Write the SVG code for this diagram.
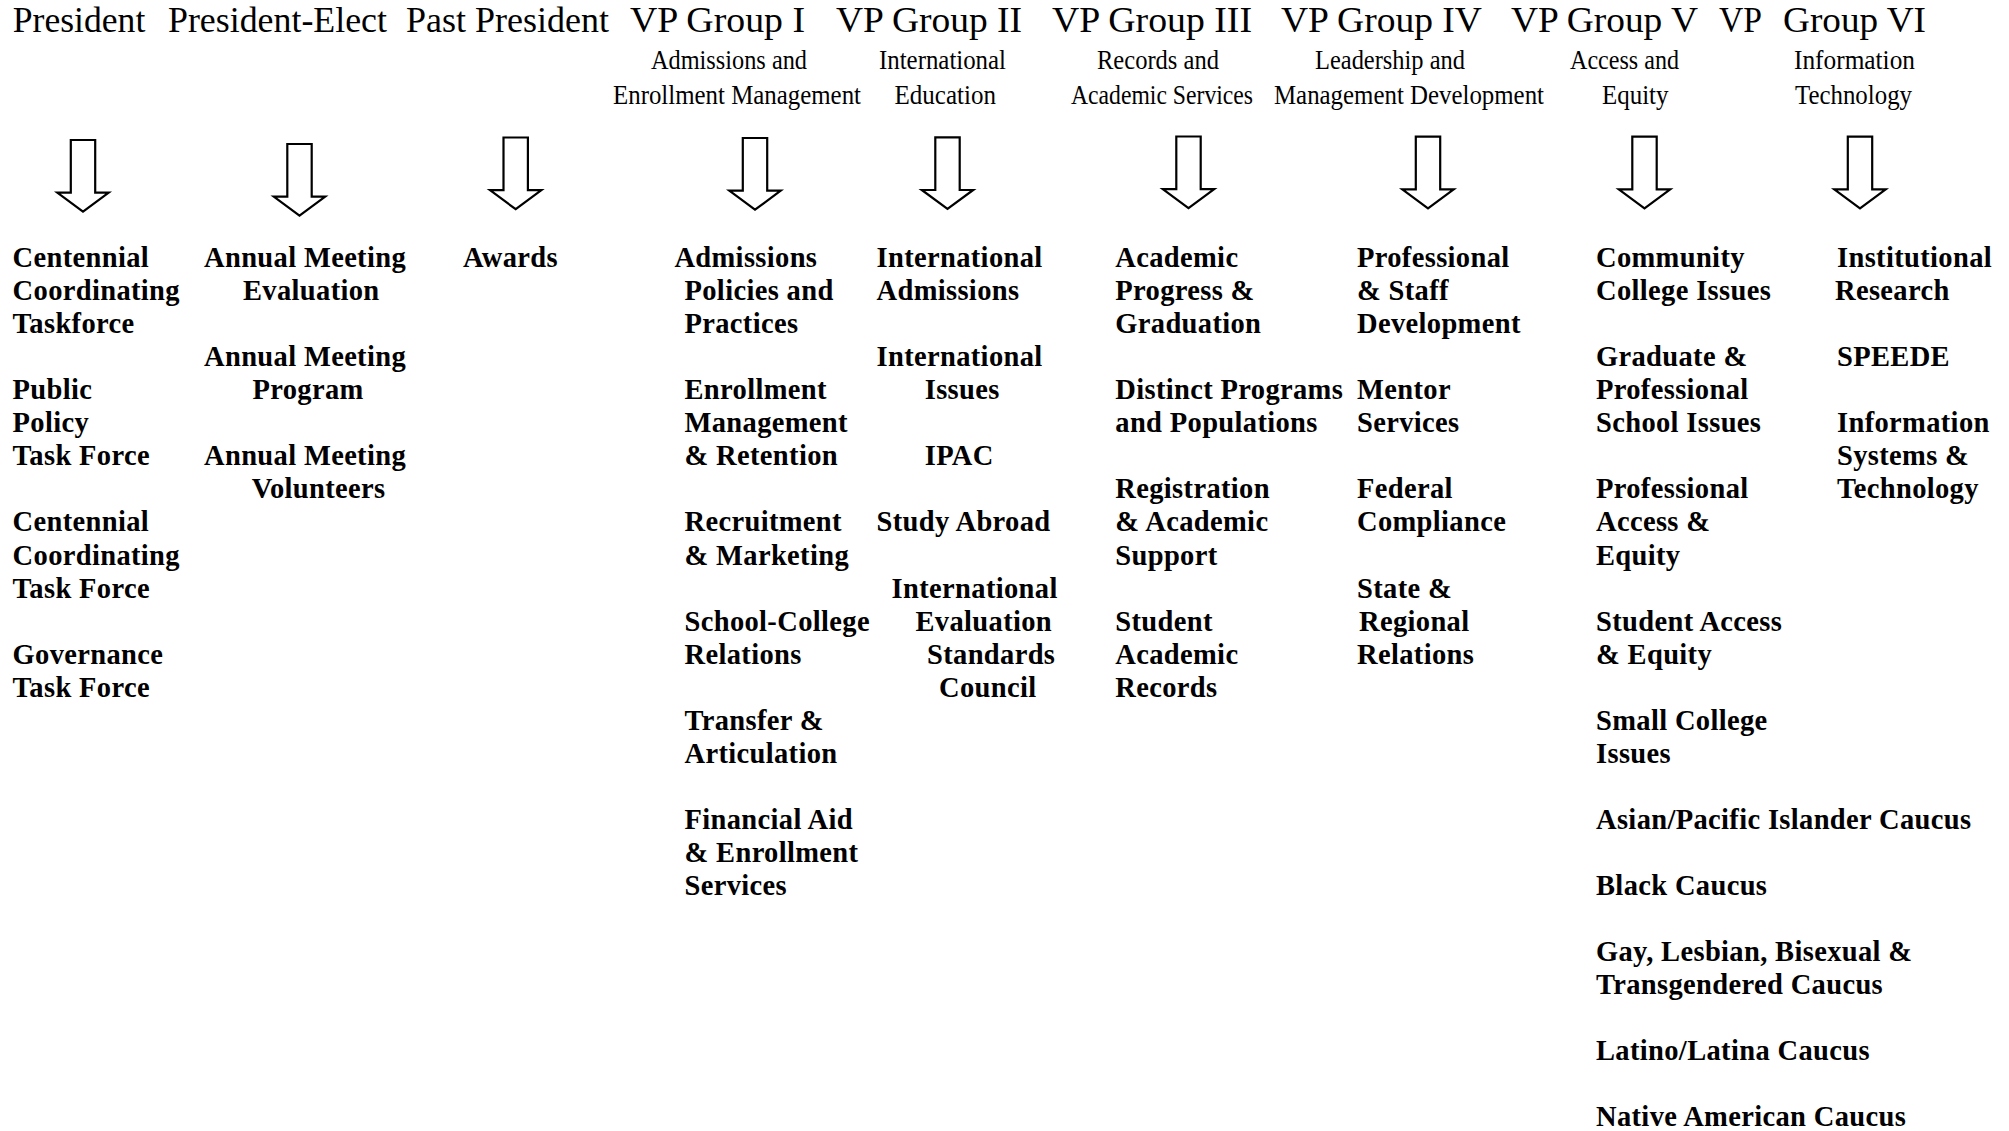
<svg xmlns="http://www.w3.org/2000/svg" width="2009" height="1131" viewBox="0 0 2009 1131">
<style>
.h{font-family:"Liberation Serif","Times New Roman",serif;font-size:35.5px;fill:#000}
.s{font-family:"Liberation Serif","Times New Roman",serif;font-size:27px;fill:#000}
.b{font-family:"Liberation Serif","Times New Roman",serif;font-size:28.5px;font-weight:bold;letter-spacing:0.35px;fill:#000}
.arr{fill:#fff;stroke:#000;stroke-width:2.2;stroke-linejoin:miter}
</style>
<defs>
<path id="arrow" class="arr" d="M-12.2,0 H12.2 V52.7 H25.7 L0,71.7 L-25.7,52.7 H-12.2 Z"/>
</defs>
<rect width="2009" height="1131" fill="#fff"/>

<g id="headers">
<g id="h-president"><text class="h" x="12.8" y="32" textLength="132.5" lengthAdjust="spacingAndGlyphs">President</text></g>
<g id="h-president-elect"><text class="h" x="168" y="32" textLength="219" lengthAdjust="spacingAndGlyphs">President-Elect</text></g>
<g id="h-past-president"><text class="h" x="406" y="32" textLength="203" lengthAdjust="spacingAndGlyphs">Past President</text></g>
<g id="h-vp1"><text class="h" x="630" y="32" textLength="175" lengthAdjust="spacingAndGlyphs">VP Group I</text>
<text class="s" x="651" y="69" textLength="156" lengthAdjust="spacingAndGlyphs">Admissions and</text>
<text class="s" x="613" y="104" textLength="248" lengthAdjust="spacingAndGlyphs">Enrollment Management</text></g>
<g id="h-vp2"><text class="h" x="836" y="32" textLength="186" lengthAdjust="spacingAndGlyphs">VP Group II</text>
<text class="s" x="879" y="69" textLength="127" lengthAdjust="spacingAndGlyphs">International</text>
<text class="s" x="894.5" y="104" textLength="101.5" lengthAdjust="spacingAndGlyphs">Education</text></g>
<g id="h-vp3"><text class="h" x="1052" y="32" textLength="200" lengthAdjust="spacingAndGlyphs">VP Group III</text>
<text class="s" x="1097" y="69" textLength="122" lengthAdjust="spacingAndGlyphs">Records and</text>
<text class="s" x="1071" y="104" textLength="182" lengthAdjust="spacingAndGlyphs">Academic Services</text></g>
<g id="h-vp4"><text class="h" x="1281" y="32" textLength="201" lengthAdjust="spacingAndGlyphs">VP Group IV</text>
<text class="s" x="1315" y="69" textLength="150" lengthAdjust="spacingAndGlyphs">Leadership and</text>
<text class="s" x="1274" y="104" textLength="270" lengthAdjust="spacingAndGlyphs">Management Development</text></g>
<g id="h-vp5"><text class="h" x="1511" y="32" textLength="187" lengthAdjust="spacingAndGlyphs">VP Group V</text>
<text class="s" x="1570" y="69" textLength="109" lengthAdjust="spacingAndGlyphs">Access and</text>
<text class="s" x="1602" y="104" textLength="66.5" lengthAdjust="spacingAndGlyphs">Equity</text></g>
<g id="h-vp6"><text class="h" x="1719" y="32" textLength="43" lengthAdjust="spacingAndGlyphs">VP</text>
<text class="h" x="1783" y="32" textLength="143" lengthAdjust="spacingAndGlyphs">Group VI</text>
<text class="s" x="1794" y="69" textLength="121" lengthAdjust="spacingAndGlyphs">Information</text>
<text class="s" x="1795" y="104" textLength="117" lengthAdjust="spacingAndGlyphs">Technology</text></g>
</g>

<g id="connectors">
<use href="#arrow" x="83" y="140"/>
<use href="#arrow" x="299.5" y="144"/>
<use href="#arrow" x="515.7" y="137.5"/>
<use href="#arrow" x="755" y="138"/>
<use href="#arrow" x="947.5" y="137.3"/>
<use href="#arrow" x="1188.5" y="136.5"/>
<use href="#arrow" x="1428" y="136.7"/>
<use href="#arrow" x="1644.5" y="136.7"/>
<use href="#arrow" x="1860" y="136.7"/>
</g>

<g id="col-president">
<g id="n-centennial-1"><text class="b"><tspan x="12.6" y="267">Centennial</tspan><tspan x="12.6" y="300.1">Coordinating</tspan><tspan x="12.6" y="333.1">Taskforce</tspan></text></g>
<g id="n-public-policy"><text class="b"><tspan x="12.6" y="399.2">Public</tspan><tspan x="12.6" y="432.3">Policy</tspan><tspan x="12.6" y="465.3">Task Force</tspan></text></g>
<g id="n-centennial-2"><text class="b"><tspan x="12.6" y="531.4">Centennial</tspan><tspan x="12.6" y="564.5">Coordinating</tspan><tspan x="12.6" y="597.5">Task Force</tspan></text></g>
<g id="n-governance"><text class="b"><tspan x="12.6" y="663.6">Governance</tspan><tspan x="12.6" y="696.7">Task Force</tspan></text></g>
</g>

<g id="col-president-elect">
<g id="n-am-eval"><text class="b"><tspan x="204" y="267">Annual Meeting</tspan><tspan x="243" y="300.1">Evaluation</tspan></text></g>
<g id="n-am-program"><text class="b"><tspan x="204" y="366.2">Annual Meeting</tspan><tspan x="252.5" y="399.2">Program</tspan></text></g>
<g id="n-am-volunteers"><text class="b"><tspan x="204" y="465.3">Annual Meeting</tspan><tspan x="251.7" y="498.4">Volunteers</tspan></text></g>
</g>

<g id="col-past-president">
<g id="n-awards"><text class="b" x="463" y="267">Awards</text></g>
</g>

<g id="col-vp1">
<g id="n-admissions-policies"><text class="b"><tspan x="674.4" y="267">Admissions</tspan><tspan x="684.5" y="300.1">Policies and</tspan><tspan x="684.5" y="333.1">Practices</tspan></text></g>
<g id="n-enrollment-mgmt"><text class="b"><tspan x="684.5" y="399.2">Enrollment</tspan><tspan x="684.5" y="432.3">Management</tspan><tspan x="684.5" y="465.3">&amp; Retention</tspan></text></g>
<g id="n-recruitment"><text class="b"><tspan x="684.5" y="531.4">Recruitment</tspan><tspan x="684.5" y="564.5">&amp; Marketing</tspan></text></g>
<g id="n-school-college"><text class="b"><tspan x="684.5" y="630.6">School-College</tspan><tspan x="684.5" y="663.6">Relations</tspan></text></g>
<g id="n-transfer"><text class="b"><tspan x="684.5" y="729.7">Transfer &amp;</tspan><tspan x="684.5" y="762.8">Articulation</tspan></text></g>
<g id="n-financial-aid"><text class="b"><tspan x="684.5" y="828.9">Financial Aid</tspan><tspan x="684.5" y="861.9">&amp; Enrollment</tspan><tspan x="684.5" y="895">Services</tspan></text></g>
</g>

<g id="col-vp2">
<g id="n-intl-admissions"><text class="b"><tspan x="876.5" y="267">International</tspan><tspan x="876.5" y="300.1">Admissions</tspan></text></g>
<g id="n-intl-issues"><text class="b"><tspan x="876.5" y="366.2">International</tspan><tspan x="924.7" y="399.2">Issues</tspan></text></g>
<g id="n-ipac"><text class="b" x="924.7" y="465.3">IPAC</text></g>
<g id="n-study-abroad"><text class="b" x="876.5" y="531.4">Study Abroad</text></g>
<g id="n-iesc"><text class="b"><tspan x="891.6" y="597.5">International</tspan><tspan x="915.5" y="630.6">Evaluation</tspan><tspan x="927" y="663.6">Standards</tspan><tspan x="939" y="696.7">Council</tspan></text></g>
</g>

<g id="col-vp3">
<g id="n-academic-progress"><text class="b"><tspan x="1115.3" y="267">Academic</tspan><tspan x="1115.3" y="300.1">Progress &amp;</tspan><tspan x="1115.3" y="333.1">Graduation</tspan></text></g>
<g id="n-distinct-programs"><text class="b"><tspan x="1115.3" y="399.2">Distinct Programs</tspan><tspan x="1115.3" y="432.3">and Populations</tspan></text></g>
<g id="n-registration"><text class="b"><tspan x="1115.3" y="498.4">Registration</tspan><tspan x="1115.3" y="531.4">&amp; Academic</tspan><tspan x="1115.3" y="564.5">Support</tspan></text></g>
<g id="n-student-records"><text class="b"><tspan x="1115.3" y="630.6">Student</tspan><tspan x="1115.3" y="663.6">Academic</tspan><tspan x="1115.3" y="696.7">Records</tspan></text></g>
</g>

<g id="col-vp4">
<g id="n-prof-staff"><text class="b"><tspan x="1357" y="267">Professional</tspan><tspan x="1357" y="300.1">&amp; Staff</tspan><tspan x="1357" y="333.1">Development</tspan></text></g>
<g id="n-mentor"><text class="b"><tspan x="1357" y="399.2">Mentor</tspan><tspan x="1357" y="432.3">Services</tspan></text></g>
<g id="n-federal"><text class="b"><tspan x="1357" y="498.4">Federal</tspan><tspan x="1357" y="531.4">Compliance</tspan></text></g>
<g id="n-state-regional"><text class="b"><tspan x="1357" y="597.5">State &amp;</tspan><tspan x="1359" y="630.6">Regional</tspan><tspan x="1357" y="663.6">Relations</tspan></text></g>
</g>

<g id="col-vp5">
<g id="n-community-college"><text class="b"><tspan x="1596" y="267">Community</tspan><tspan x="1596" y="300.1">College Issues</tspan></text></g>
<g id="n-graduate"><text class="b"><tspan x="1596" y="366.2">Graduate &amp;</tspan><tspan x="1596" y="399.2">Professional</tspan><tspan x="1596" y="432.3">School Issues</tspan></text></g>
<g id="n-prof-access"><text class="b"><tspan x="1596" y="498.4">Professional</tspan><tspan x="1596" y="531.4">Access &amp;</tspan><tspan x="1596" y="564.5">Equity</tspan></text></g>
<g id="n-student-access"><text class="b"><tspan x="1596" y="630.6">Student Access</tspan><tspan x="1596" y="663.6">&amp; Equity</tspan></text></g>
<g id="n-small-college"><text class="b"><tspan x="1596" y="729.7">Small College</tspan><tspan x="1596" y="762.8">Issues</tspan></text></g>
<g id="n-asian"><text class="b" x="1596" y="828.9">Asian/Pacific Islander Caucus</text></g>
<g id="n-black"><text class="b" x="1596" y="895">Black Caucus</text></g>
<g id="n-glbt"><text class="b"><tspan x="1596" y="961.1">Gay, Lesbian, Bisexual &amp;</tspan><tspan x="1596" y="994.1">Transgendered Caucus</tspan></text></g>
<g id="n-latino"><text class="b" x="1596" y="1060.2">Latino/Latina Caucus</text></g>
<g id="n-native"><text class="b" x="1596" y="1126.3">Native American Caucus</text></g>
</g>

<g id="col-vp6">
<g id="n-inst-research"><text class="b"><tspan x="1837" y="267">Institutional</tspan><tspan x="1835" y="300.1">Research</tspan></text></g>
<g id="n-speede"><text class="b" x="1837" y="366.2">SPEEDE</text></g>
<g id="n-info-systems"><text class="b"><tspan x="1837" y="432.3">Information</tspan><tspan x="1837" y="465.3">Systems &amp;</tspan><tspan x="1837" y="498.4">Technology</tspan></text></g>
</g>
</svg>
